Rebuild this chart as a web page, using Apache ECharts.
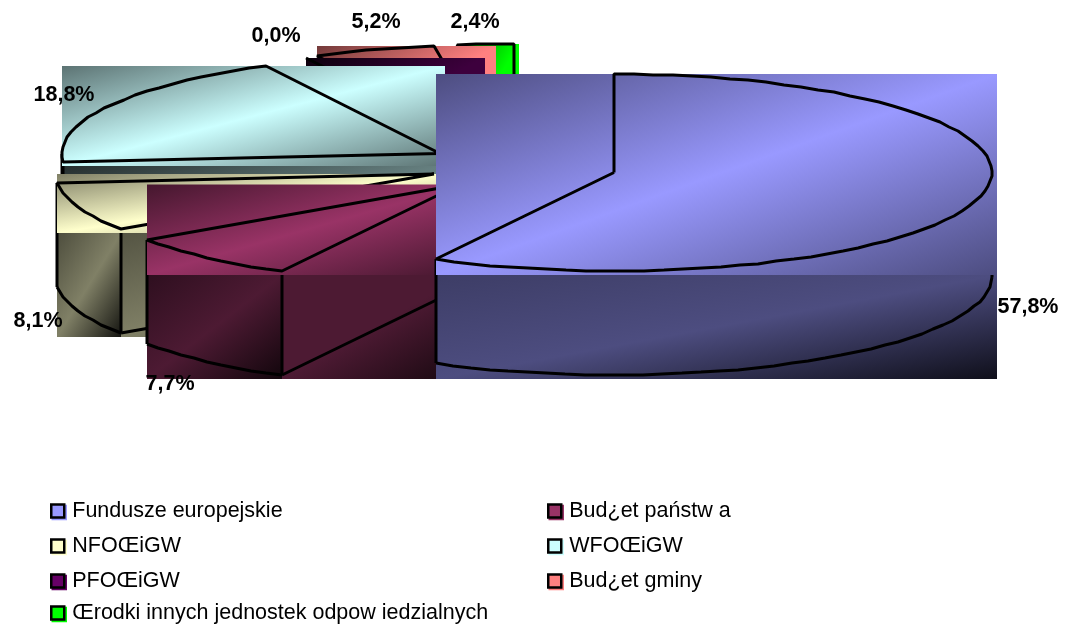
<!DOCTYPE html>
<html><head><meta charset="utf-8">
<style>html,body{margin:0;padding:0;background:#fff}#c{width:1065px;height:627px}</style>
<script src="https://cdn.jsdelivr.net/npm/echarts@6/dist/echarts.min.js"></script>
</head><body><div id="c"></div>
<script>
// ---- data ----
const categories = ['Fundusze europejskie','Bud¿et państw a','NFOŒiGW','WFOŒiGW','PFOŒiGW','Bud¿et gminy','Œrodki innych jednostek odpow iedzialnych'];
const shares = [57.8, 7.7, 8.1, 18.8, 0.0, 5.2, 2.4];
const colors = ['#9999ff','#993366','#ffffcc','#ccffff','#660066','#ff8080','#00ff00'];

// ---- layout (exploded slice centres, label spots, legend slots) ----
const RX = 378, RY = 98.5, DEPTH = 104;
const centres = [[614,172.5],[460,184.5],[434,174],[440,153.5],[480,145.4],[491,143.4],[514,142.5]];
const labelAt = [[1028,307],[170,384],[38,321],[64,95],[276,36],[376,22],[475,22]];
const legendAt = [[50,500],[547,500],[50,535],[547,535],[50,570],[547,570],[50,602]];
// brightness multipliers at gradient start / middle / end
const faceShade = [[.5,1,.5],[.45,1,.45],[.5,1,.5],[.45,1,.45],[.12,.6,.6],[.45,1,1],[.5,1,1]];
const wallShade = [[.4,.5,.1],[.3,.5,.12],[.3,.5,.08],[.18,.5,.1],[.2,.5,.1],[.2,.5,.1],[.2,.5,.1]];
const innerShade = [[.4,.5,.1],[.5,.5,.15],[.33,.5,.2],[.18,.5,.1],[.2,.5,.1],[.2,.5,.1],[.2,.5,.1]];

function shade(hex, f){
  const n = parseInt(hex.slice(1),16);
  return 'rgb('+[(n>>16)&255,(n>>8)&255,n&255].map(v=>Math.round(v*f)).join(',')+')';
}
// Gradient whose iso-lines run parallel to the rectangle's rising diagonal
function diagGradient(w,h,color,s){
  const q = w*w+h*h, dx = h*h/q, dy = w*w/q;
  return {type:'linear',x:.5-dx,y:.5-dy,x2:.5+dx,y2:.5+dy,global:false,
    colorStops:[{offset:0,color:shade(color,s[0])},{offset:.5,color:shade(color,s[1])},{offset:1,color:shade(color,s[2])}]};
}
function rimPoint(c,deg){
  const a = deg*Math.PI/180;
  return [Math.round(c[0]+RX*Math.sin(a)), Math.round(c[1]-RY*Math.cos(a))];
}
function rim(c,from,to){
  const pts=[]; const n=Math.max(1,Math.ceil((to-from)/3));
  for(let i=0;i<=n;i++) pts.push(rimPoint(c,from+(to-from)*i/n));
  return pts;
}
const LINE = {fill:'none',stroke:'#000',lineWidth:3,lineJoin:'bevel'};
const poly = pts => ({type:'polyline',shape:{points:pts},style:LINE,silent:true});

function sliceItem(i, value){
  const before = shares.slice(0,i).reduce((a,b)=>a+b,0);
  const from = before*3.6, to = (before+value)*3.6;
  const c = centres[i], col = colors[i];
  const arc = rim(c,from,to);
  const outline = [c].concat(arc,[c]);
  const xs = outline.map(p=>p[0]), ys = outline.map(p=>p[1]);
  const x0=Math.min(...xs), x1=Math.max(...xs)+5, y0=Math.min(...ys), y1=Math.max(...ys)+4;
  const children=[];
  const down = p => [p[0],p[1]+DEPTH];
  const fa=Math.max(from,90), fb=Math.min(to,270);
  let rimLeft = null;
  if(fb>fa){
    const fx = rim(c,fa,fb).map(p=>p[0]);
    rimLeft=[Math.min(...fx),Math.max(...fx)];
  }
  const startP = rimPoint(c,from);
  if(from>180){
    const l = Math.min(startP[0],c[0]), r = Math.max(startP[0],c[0])+5;
    children.push({type:'rect',shape:{x:l,y:y1,width:r-l,height:DEPTH},style:{fill:diagGradient(r-l,DEPTH,col,innerShade[i])},silent:true});
    children.push(poly([down(startP),down(c)]));
  }
  if(rimLeft && rimLeft[1]-rimLeft[0]>=2){
    const r = rimLeft[1]===c[0]+RX ? rimLeft[1]+5 : rimLeft[1];
    children.push({type:'rect',shape:{x:rimLeft[0],y:y1,width:r-rimLeft[0],height:DEPTH},style:{fill:diagGradient(r-rimLeft[0],DEPTH,col,wallShade[i])},silent:true});
  }
  if(fb>fa){
    const front = rim(c,fa,fb);
    children.push(poly(front.map(down)));
    children.push(poly([front[0],down(front[0])]));
    children.push(poly([front[front.length-1],down(front[front.length-1])]));
  }
  children.push({type:'rect',shape:{x:x0,y:y0,width:x1-x0,height:y1-y0},style:{fill:diagGradient(x1-x0,y1-y0,col,faceShade[i])},silent:true});
  children.push(poly(outline));
  children.push({type:'text',silent:true,style:{x:labelAt[i][0],y:labelAt[i][1],text:value.toFixed(1).replace('.',',')+'%',
    fill:'#000',font:'bold 21.5px "Liberation Sans", Arial, sans-serif',align:'center',verticalAlign:'middle'}});
  return {type:'group',children};
}

const series = categories.map((name,i)=>({
  type:'custom',name,coordinateSystem:'none',clip:false,animation:false,silent:true,
  z:2+(categories.length-i),
  itemStyle:{color:colors[i]},
  data:[[shares[i]]],
  renderItem:(p,api)=>sliceItem(i,api.value(0))
}));

const legend = categories.map((name,i)=>({
  data:[{name,icon:'rect',itemStyle:{color:colors[i],borderColor:'#000',borderWidth:2.5,shadowColor:colors[i],shadowBlur:0,shadowOffsetX:1.5,shadowOffsetY:1.5}}],
  left:legendAt[i][0],top:legendAt[i][1],padding:0,itemWidth:13,itemHeight:13,selectedMode:false,
  textStyle:{fontSize:21.5,color:'#000',fontFamily:'"Liberation Sans", Arial, sans-serif',padding:[0,0,0,3]}
}));

const chart = echarts.init(document.getElementById('c'),null,{renderer:'canvas'});
chart.setOption({backgroundColor:'#fff',animation:false,legend,series});
</script></body></html>
